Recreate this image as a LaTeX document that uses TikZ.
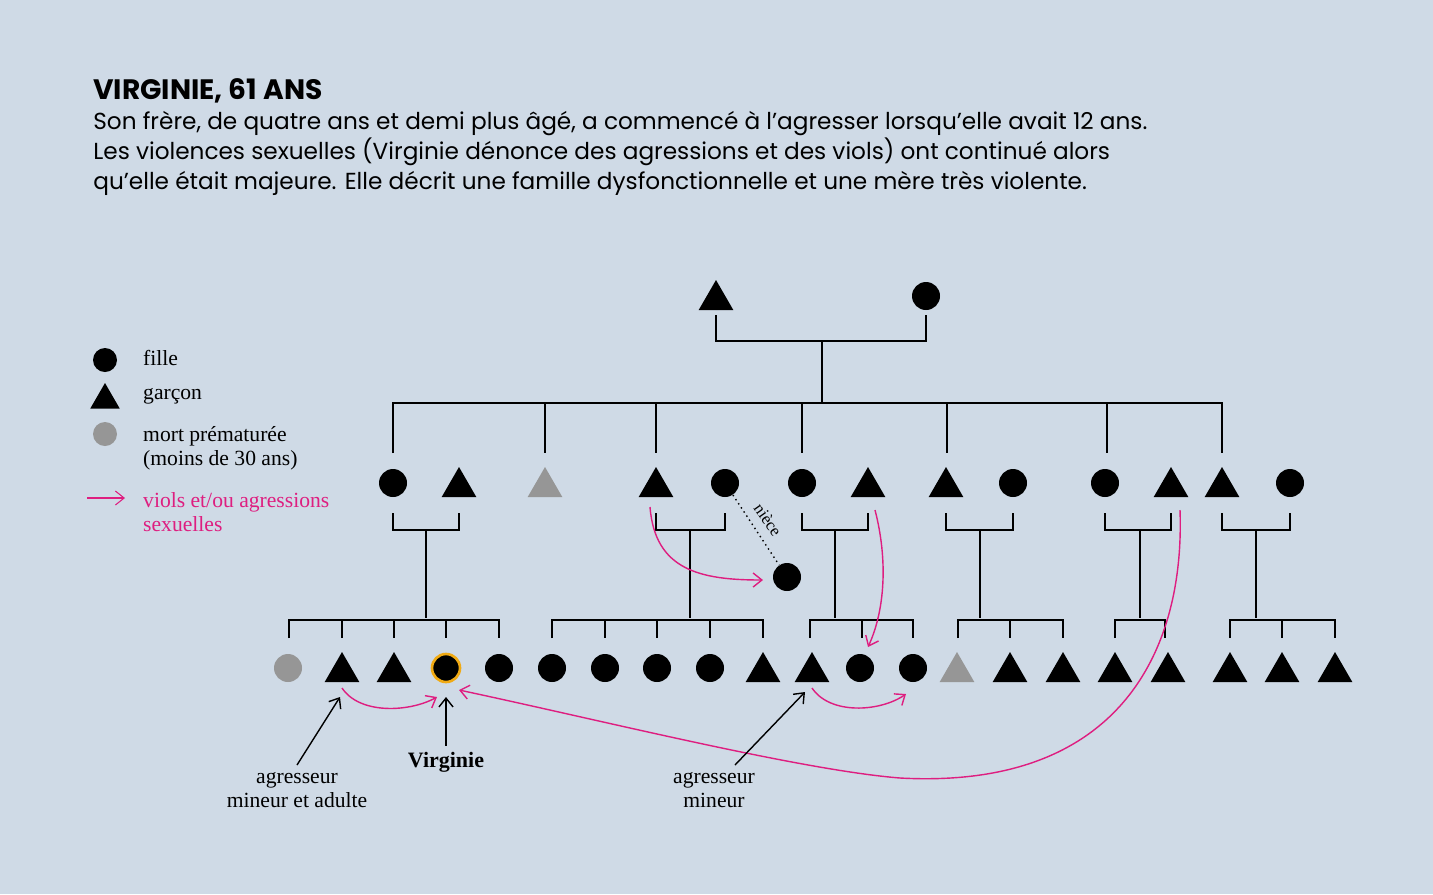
\documentclass[tikz,border=0pt]{standalone}
\usepackage{fontspec}
\setmainfont{Liberation Serif}
\setsansfont{Poppins}
\usetikzlibrary{shapes.geometric,arrows.meta}
\definecolor{fond}{RGB}{207,218,230}
\definecolor{viol}{RGB}{222,30,128}
\definecolor{mort}{RGB}{150,150,150}
\tikzset{
  fille/.style={circle,fill=black,minimum size=28*0.02cm,inner sep=0pt},
  garcon/.style={regular polygon,regular polygon sides=3,fill=black,minimum size=40*0.02cm,inner sep=0pt},
  lien/.style={line width=0.9pt},
  fleche/.style={viol,line width=0.8pt,-{Straight Barb[length=5pt,width=8pt]}},
  pointe/.style={line width=0.8pt,-{Straight Barb[length=5pt,width=8pt]}},
  legende/.style={anchor=west,font=\fontsize{12.3}{14}\selectfont,align=left}
}
\begin{document}
\begin{tikzpicture}[x=0.02cm,y=-0.02cm]
\fill[fond] (0,0) rectangle (1433,894);
\useasboundingbox (0,0) rectangle (1433,894);

% titre
\node[anchor=west,inner sep=0pt,font=\sffamily\bfseries\fontsize{16}{19}\selectfont] (titre) at (93,91) {VIRGINIE, 61 ANS};
\node[anchor=north west,align=left,font=\sffamily\fontsize{13.2}{17.1}\selectfont,inner sep=0pt] (texte) at (93,111)
 {Son frère, de quatre ans et demi plus âgé, a commencé à l’agresser lorsqu’elle avait 12 ans.\\
  Les violences sexuelles (Virginie dénonce des agressions et des viols) ont continué alors\\
  qu’elle était majeure. Elle décrit une famille dysfonctionnelle et une mère très violente.};

% legende
\node[fille,minimum size=24*0.02cm] (lf) at (105,360) {};
\node[legende] at (137,358) {fille};
\node[garcon,minimum size=34*0.02cm] (lg) at (105,400) {};
\node[legende] at (137,396) {garçon};
\node[fille,fill=mort,minimum size=24*0.02cm] (lm) at (105,434) {};
\node[legende,anchor=north west] at (137,420) {mort prématurée\\(moins de 30 ans)};
\coordinate (la1) at (87,498);
\coordinate (la2) at (125,498);
\draw[fleche,line width=0.6pt] (la1) -- (la2);
\node[legende,anchor=north west,text=viol] at (137,486) {viols et/ou agressions\\sexuelles};

% grands-parents
\node[garcon] (gp) at (716,300) {};
\node[fille] (gm) at (926,296) {};
\draw[lien] (716,315) |- (926,341) -- (926,315);
\draw[lien] (822,341) -- (822,403);
\draw[lien] (393,453) |- (1222,403) -- (1222,453);
\foreach \x in {545,656,802,947,1107} \draw[lien] (\x,403) -- (\x,453);

% enfants
\node[fille] (a1) at (393,483) {};
\node[garcon] (a2) at (459,487) {};
\node[garcon,fill=mort] (a3) at (545,487) {};
\node[garcon] (a4) at (656,487) {};
\node[fille] (a5) at (725,483) {};
\node[fille] (a6) at (802,483) {};
\node[garcon] (a7) at (868,487) {};
\node[garcon] (a8) at (946,487) {};
\node[fille] (a9) at (1013,483) {};
\node[fille] (a10) at (1105,483) {};
\node[garcon] (a11) at (1171,487) {};
\node[garcon] (a12) at (1222,487) {};
\node[fille] (a13) at (1290,483) {};

% couples
\draw[lien] (393,513) |- (459,530) -- (459,513);  \draw[lien] (426,530) -- (426,618);
\draw[lien] (656,513) |- (725,530) -- (725,513);  \draw[lien] (690,530) -- (690,618);
\draw[lien] (802,513) |- (868,530) -- (868,513);  \draw[lien] (835,530) -- (835,618);
\draw[lien] (946,513) |- (1013,530) -- (1013,513); \draw[lien] (980,530) -- (980,618);
\draw[lien] (1105,513) |- (1171,530) -- (1171,513); \draw[lien] (1140,530) -- (1140,618);
\draw[lien] (1222,513) |- (1290,530) -- (1290,513); \draw[lien] (1256,530) -- (1256,618);

% niece
\node[fille] (ni) at (787,577) {};
\draw[dotted,line width=0.8pt] (a5) -- (ni);
\node[rotate=-55,font=\fontsize{9.5}{11}\selectfont,inner sep=0pt] (nl) at (768,520) {nièce};

% petits-enfants
\draw[lien] (289,638) |- (499,620) -- (499,638);
\foreach \x in {342,394,446} \draw[lien] (\x,620) -- (\x,638);
\draw[lien] (552,638) |- (763,620) -- (763,638);
\foreach \x in {605,657,710} \draw[lien] (\x,620) -- (\x,638);
\draw[lien] (810,638) |- (913,620) -- (913,638);
\draw[lien] (862,620) -- (862,638);
\draw[lien] (958,638) |- (1063,620) -- (1063,638);
\draw[lien] (1010,620) -- (1010,638);
\draw[lien] (1115,638) |- (1165,620) -- (1165,638);
\draw[lien] (1230,638) |- (1335,620) -- (1335,638);
\draw[lien] (1282,620) -- (1282,638);

\node[fille,fill=mort] (b1) at (288,668) {};
\node[garcon] (b2) at (342,672) {};
\node[garcon] (b3) at (394,672) {};
\node[fille,draw={rgb,255:red,240;green,170;blue,20},line width=1.5pt] (vi) at (446,668) {};
\node[fille] (b5) at (499,668) {};
\node[fille] (b6) at (552,668) {};
\node[fille] (b7) at (605,668) {};
\node[fille] (b8) at (657,668) {};
\node[fille] (b9) at (710,668) {};
\node[garcon] (b10) at (763,672) {};
\node[garcon] (b11) at (812,672) {};
\node[fille] (b12) at (860,668) {};
\node[fille] (b13) at (913,668) {};
\node[garcon,fill=mort] (b14) at (957,672) {};
\node[garcon] (b15) at (1010,672) {};
\node[garcon] (b16) at (1063,672) {};
\node[garcon] (b17) at (1115,672) {};
\node[garcon] (b18) at (1168,672) {};
\node[garcon] (b19) at (1230,672) {};
\node[garcon] (b20) at (1282,672) {};
\node[garcon] (b21) at (1335,672) {};

% violences
\draw[fleche] (650,507) .. controls (655,570) and (700,580) .. (763,580);
\draw[fleche] (875,510) .. controls (888,560) and (885,610) .. (868,647);
\draw[fleche] (1180,510) .. controls (1185,650) and (1120,790) .. (900,778)
  .. controls (800,770) and (600,720) .. (459,690);
\draw[fleche] (342,688) .. controls (360,715) and (410,712) .. (437,697);
\draw[fleche] (812,688) .. controls (830,715) and (880,712) .. (906,694);

% agresseurs
\node[align=center,font=\fontsize{12.3}{13.5}\selectfont] (ag1) at (297,790) {agresseur\\mineur et adulte};
\node[font=\bfseries\fontsize{12.5}{14}\selectfont] (vn) at (446,762) {Virginie};
\node[align=center,font=\fontsize{12.3}{13.5}\selectfont] (ag2) at (714,790) {agresseur\\mineur};
\draw[pointe] (297,765) -- (340,697);
\draw[pointe] (vn) -- (446,697);
\draw[pointe] (735,765) -- (805,692);
\end{tikzpicture}
\end{document}
